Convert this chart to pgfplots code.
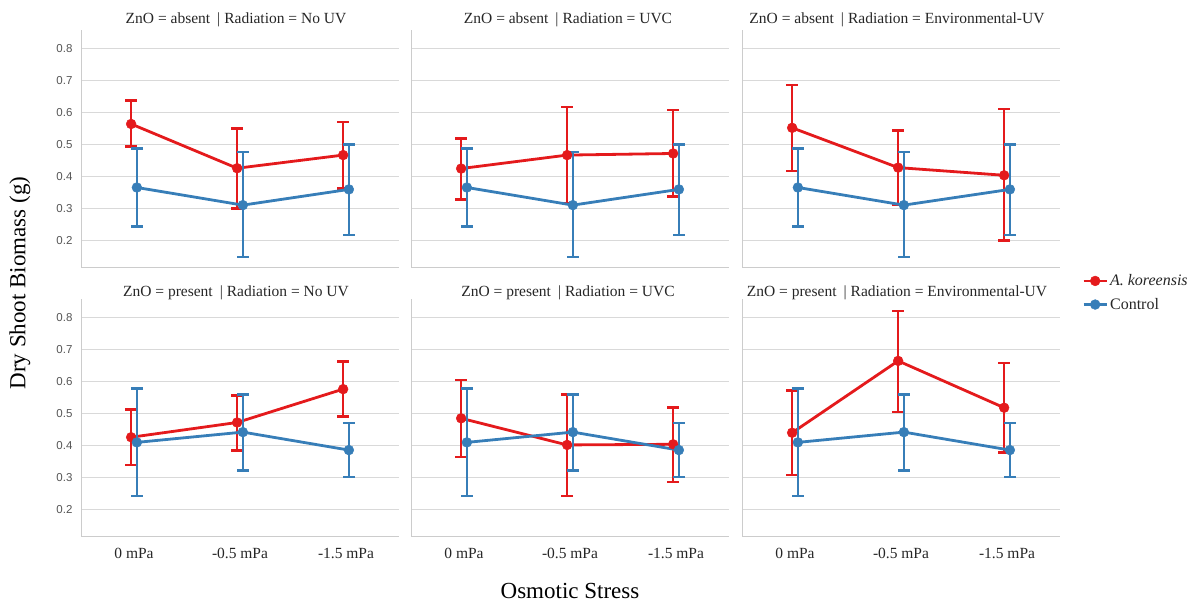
\documentclass[border=0pt]{standalone}
\usepackage{fontspec}
\setmainfont{Liberation Serif}
\newfontfamily\tickfont{Liberation Sans}
\usepackage{pgfplots}
\usepackage{pgfplotstable}
\pgfplotsset{compat=1.18}
\definecolor{cRed}{HTML}{E41A1C}
\definecolor{cBlue}{HTML}{377EB8}
\definecolor{cGrid}{HTML}{D9D9D9}
\definecolor{cSpine}{HTML}{CCCCCC}
\definecolor{cText}{HTML}{262626}
\definecolor{cTick}{HTML}{555555}

% x = category index (0 mPa, -0.5 mPa, -1.5 mPa); y = mean; lo/hi = error bar ends
\pgfplotstableread{
x y lo hi
0 0.564 0.493 0.637
1 0.426 0.300 0.550
2 0.467 0.363 0.570
}\redA
\pgfplotstableread{
x y lo hi
0 0.425 0.329 0.518
1 0.467 0.317 0.617
2 0.472 0.338 0.607
}\redB
\pgfplotstableread{
x y lo hi
0 0.552 0.417 0.686
1 0.428 0.311 0.544
2 0.404 0.200 0.611
}\redC
\pgfplotstableread{
x y lo hi
0 0.366 0.245 0.487
1 0.311 0.149 0.477
2 0.360 0.218 0.500
}\ctrlTop
\pgfplotstableread{
x y lo hi
0 0.426 0.339 0.513
1 0.472 0.384 0.557
2 0.576 0.491 0.662
}\redD
\pgfplotstableread{
x y lo hi
0 0.485 0.364 0.605
1 0.402 0.243 0.560
2 0.404 0.287 0.518
}\redE
\pgfplotstableread{
x y lo hi
0 0.440 0.308 0.572
1 0.664 0.505 0.820
2 0.518 0.378 0.657
}\redF
\pgfplotstableread{
x y lo hi
0 0.410 0.243 0.578
1 0.442 0.322 0.560
2 0.386 0.302 0.471
}\ctrlBot

\pgfplotsset{
  panel/.style={
    scale only axis, width=318pt, height=238pt, anchor=south west,
    xmin=-0.5, xmax=2.5, ymin=0.115, ymax=0.857,
    axis x line*=bottom, axis y line*=left,
    axis line style={cSpine, line width=1pt, -},
    ymajorgrids, grid style={cGrid, line width=1pt},
    major tick length=0pt,
    xtick={0,1,2}, xticklabels={}, yticklabels={},
    ytick={0.2,0.3,0.4,0.5,0.6,0.7,0.8},
  },
  ylabs/.style={
    yticklabels={0.2,0.3,0.4,0.5,0.6,0.7,0.8},
    yticklabel style={font=\tickfont\fontsize{11.5}{13}\selectfont, text=cTick, xshift=-5pt},
  },
  xlabs/.style={
    xticklabels={0 mPa,-0.5 mPa,-1.5 mPa},
    xticklabel style={font=\fontsize{15.5}{17}\selectfont, text=cText, yshift=-8pt},
  },
  series/.style={
    color=#1, line width=2.8pt, mark=*, mark size=4.9pt,
    mark options={solid, fill=#1, draw=#1, line width=0.5pt},
    error bars/.cd, y dir=both, y explicit,
    error bar style={line width=2.6pt, #1},
    error mark options={rotate=90, mark size=6pt, line width=2.6pt, #1},
  },
  legend image code/.code={
    \draw[#1, line width=2.8pt] (0pt,0pt) -- (23pt,0pt);
    \draw[#1, fill] plot[mark=*, mark size=4.9pt] coordinates {(11.5pt,0pt)};
  },
}

\newcommand{\facet}[5]{%
  \begin{axis}[panel, at={(#1)}, #5]
    \addplot[series=cRed] table[x expr=\thisrow{x}-0.027, y=y,
      y error plus expr=\thisrow{hi}-\thisrow{y},
      y error minus expr=\thisrow{y}-\thisrow{lo}] {#3};
    \addplot[series=cBlue] table[x expr=\thisrow{x}+0.027, y=y,
      y error plus expr=\thisrow{hi}-\thisrow{y},
      y error minus expr=\thisrow{y}-\thisrow{lo}] {#4};
  \end{axis}
  \node[font=\fontsize{15.5}{17}\selectfont, text=cText] at (#2) {\ZnOtitle};
}
\newcommand{\sep}{\hspace{7pt}|\hspace{4pt}}

\begin{document}
\begin{tikzpicture}
\useasboundingbox (0,0) rectangle (1201pt,604pt);

\def\ZnOtitle{ZnO = absent\sep Radiation = No UV}
\facet{81pt,336pt}{236pt,584pt}{\redA}{\ctrlTop}{ylabs}
\def\ZnOtitle{ZnO = absent\sep Radiation = UVC}
\facet{411pt,336pt}{568pt,584pt}{\redB}{\ctrlTop}{}
\def\ZnOtitle{ZnO = absent\sep Radiation = Environmental-UV}
\facet{742pt,336pt}{897pt,584pt}{\redC}{\ctrlTop}{}

\def\ZnOtitle{ZnO = present\sep Radiation = No UV}
\facet{81pt,67pt}{236pt,311pt}{\redD}{\ctrlBot}{ylabs, xlabs}
\def\ZnOtitle{ZnO = present\sep Radiation = UVC}
\facet{411pt,67pt}{568pt,311pt}{\redE}{\ctrlBot}{xlabs}
\def\ZnOtitle{ZnO = present\sep Radiation = Environmental-UV}
\facet{742pt,67pt}{897pt,311pt}{\redF}{\ctrlBot}{xlabs,
  legend entries={\textit{A. koreensis},Control},
  legend style={at={(1.06,1.12)}, anchor=north west, draw=none, fill=none,
    font=\fontsize{16}{18}\selectfont, text=cText, row sep=7pt,
    cells={anchor=west}}}

\node[rotate=90, font=\fontsize{23}{25}\selectfont, text=black] at (20pt,321pt) {Dry Shoot Biomass (g)};
\node[font=\fontsize{23}{25}\selectfont, text=black] at (570pt,13pt) {Osmotic Stress};
\end{tikzpicture}
\end{document}
